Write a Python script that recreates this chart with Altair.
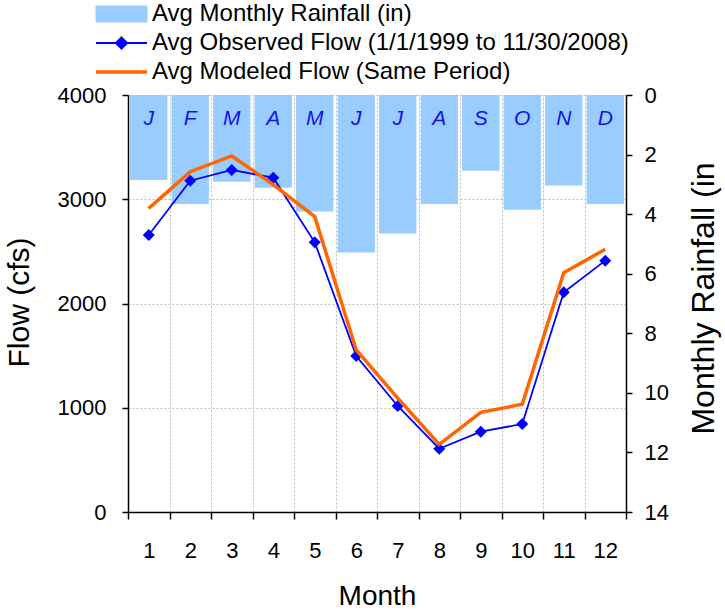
import altair as alt
import pandas as pd

# Monthly averages
months = list(range(1, 13))
month_letters = ["J", "F", "M", "A", "M", "J", "J", "A", "S", "O", "N", "D"]
rainfall_in = [2.85, 3.66, 2.91, 3.11, 3.91, 5.29, 4.65, 3.66, 2.54, 3.85, 3.04, 3.66]
observed_cfs = [2657, 3178, 3281, 3207, 2587, 1496, 1017, 607, 770, 844, 2107, 2411]
modeled_cfs = [2913, 3264, 3415, 3140, 2833, 1554, 1093, 649, 956, 1033, 2296, 2520]

series_names = [
    "Avg Monthly Rainfall (in)",
    "Avg Observed Flow (1/1/1999 to 11/30/2008)",
    "Avg Modeled Flow (Same Period)",
]
series_colors = ["#99CCFF", "#0000FF", "#FF6600"]

flow_ticks = [0, 1000, 2000, 3000, 4000]
rain_ticks = [0, 2, 4, 6, 8, 10, 12, 14]

rain_df = pd.DataFrame({"month": months, "letter": month_letters,
                        "rain": rainfall_in, "series": series_names[0]})
obs_df = pd.DataFrame({"month": months, "flow": observed_cfs, "series": series_names[1]})
mod_df = pd.DataFrame({"month": months, "flow": modeled_cfs, "series": series_names[2]})

FONT = "Liberation Sans"
GRID = "#BDBDBD"

# legend symbols (drawn left of the label): filled box, line with diamond, plain line
shape_expr = (
    "['M-5.6,-0.8H-0.5V0.8H-5.6Z',"
    " 'M-5.6,0H-0.5M-3.05,-0.55L-2.5,0L-3.05,0.55L-3.6,0Z',"
    " 'M-5.6,0H-0.5'][datum.index]"
)
color_expr = "scale('color', datum.value)"
legend = alt.Legend(
    title=None, orient="none", legendX=24, legendY=-81, direction="vertical",
    labelFont=FONT, labelFontSize=24, labelColor="black", labelLimit=700,
    labelOffset=51, symbolSize=400, rowPadding=5, padding=0,
    symbolType=alt.ExprRef(expr=shape_expr),
    symbolFillColor=alt.ExprRef(expr=color_expr),
    symbolStrokeColor=alt.ExprRef(expr=color_expr),
    symbolStrokeWidth=alt.ExprRef(expr="[1, 2, 3.5][datum.index]"),
    symbolOpacity=1,
)
color = alt.Color("series:N", scale=alt.Scale(domain=series_names, range=series_colors),
                  legend=legend)

x_axis = alt.Axis(
    title="Month", orient="bottom", labelAngle=0, tickBand="extent",
    grid=True, gridColor=GRID, gridDash=[2, 2], gridWidth=1,
    tickSize=7, tickColor="black", tickWidth=1.5,
    domainColor="black", domainWidth=1.5,
    labelFont=FONT, labelFontSize=22, labelColor="black", labelPadding=21,
    titleFont=FONT, titleFontSize=28, titleFontWeight="normal", titleColor="black",
    titleY=84, titleBaseline="middle",
)
x = alt.X("month:O", scale=alt.Scale(type="band", paddingInner=0, paddingOuter=0), axis=x_axis)

flow_scale = alt.Scale(domain=[0, 4000], nice=False)
flow_axis = alt.Axis(
    title="Flow (cfs)", orient="left", values=flow_ticks, format="d",
    grid=True, gridColor=GRID, gridDash=[2, 2], gridWidth=1,
    tickSize=6, tickColor="black", tickWidth=1.5,
    domainColor="black", domainWidth=1.5, labelFlush=False,
    labelFont=FONT, labelFontSize=22, labelColor="black", labelPadding=16,
    titleFont=FONT, titleFontSize=30, titleFontWeight="normal", titleColor="black",
    titleAngle=270, titleBaseline="middle", titleX=-109, titleY=207,
)

rain_scale = alt.Scale(domain=[0, 14], reverse=True, nice=False)
rain_axis = alt.Axis(
    title="Monthly Rainfall (in", orient="right", values=rain_ticks, format="d",
    grid=False, tickSize=6, tickColor="black", tickWidth=1.5,
    domainColor="black", domainWidth=1.5, labelFlush=False,
    labelFont=FONT, labelFontSize=22, labelColor="black", labelPadding=12,
    titleFont=FONT, titleFontSize=32, titleFontWeight="normal", titleColor="black",
    titleAngle=270, titleBaseline="middle", titleX=77, titleY=203,
)

bars = alt.Chart(rain_df).mark_bar(width={"band": 0.9}, opacity=1).encode(
    x=x,
    y=alt.Y("rain:Q", scale=rain_scale, axis=rain_axis),
    color=color,
)
letters = alt.Chart(rain_df).mark_text(
    font=FONT, fontSize=21, fontStyle="italic", color="#1414E6",
    baseline="middle", dy=24,
).encode(
    x=x,
    y=alt.YDatum(0, type="quantitative", scale=rain_scale, axis=rain_axis),
    text="letter:N",
)

flow_y = alt.Y("flow:Q", scale=flow_scale, axis=flow_axis)
obs_line = alt.Chart(obs_df).mark_line(strokeWidth=1.8).encode(x=x, y=flow_y, color=color)
obs_pts = alt.Chart(obs_df).mark_point(shape="diamond", filled=True, size=144, opacity=1).encode(
    x=x, y=flow_y, color=color)
mod_line = alt.Chart(mod_df).mark_line(strokeWidth=3.5).encode(x=x, y=flow_y, color=color)

rain_layer = alt.layer(bars, letters)
flow_layer = alt.layer(obs_line, obs_pts, mod_line)

chart = (
    alt.layer(rain_layer, flow_layer)
    .resolve_scale(y="independent")
    .properties(
        width=498, height=417,
        autosize=alt.AutoSizeParams(type="none"),
        padding={"left": 128, "top": 95, "right": 99, "bottom": 100},
        background="white",
    )
    .configure_view(stroke="transparent")
)

chart.save("out.html", embed_options={"renderer": "svg", "actions": False})
